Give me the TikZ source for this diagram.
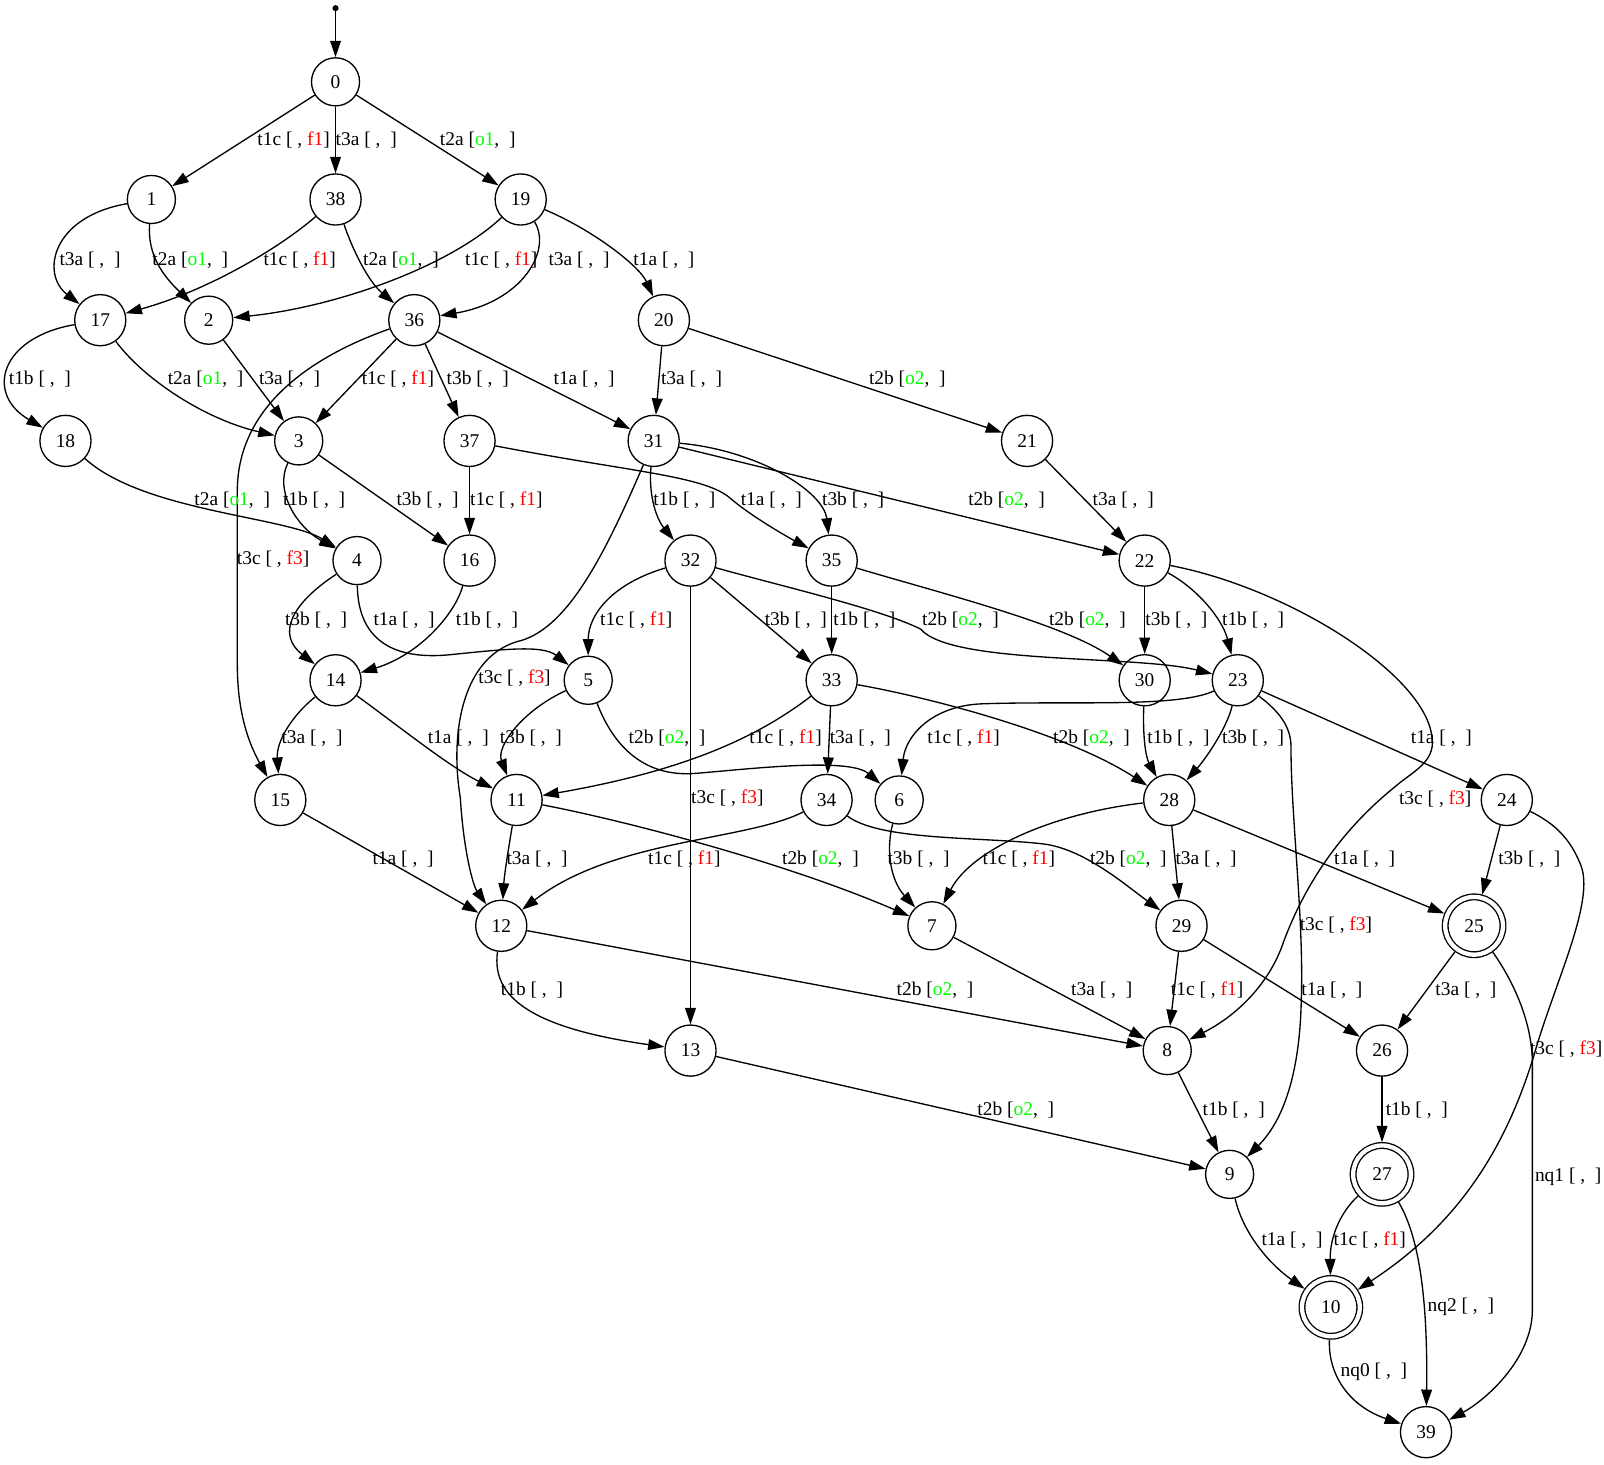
\documentclass[tikz,border=0pt]{standalone}
\usepackage{fontspec}
\setmainfont{Liberation Serif}
\usetikzlibrary{arrows.meta}
\definecolor{gvred}{RGB}{255,0,0}
\definecolor{gvgreen}{RGB}{0,255,0}
\newcommand{\lE}[1]{#1 [ ,\ \ ]}
\newcommand{\lF}[2]{#1 [ , \textcolor{gvred}{#2}]}
\newcommand{\lO}[2]{#1 [\textcolor{gvgreen}{#2},\ \ ]}
\begin{document}
\begin{tikzpicture}[x=1pt,y=-1pt,
  st/.style={circle, draw, line width=1.3pt, minimum size=47pt, inner sep=0pt, font=\fontsize{19}{22}\selectfont},
  stt/.style={st, minimum size=50pt},
  acc/.style={circle, draw, line width=1.3pt, double, double distance=4.2pt, minimum size=56.5pt, inner sep=0pt, outer sep=3.2pt, font=\fontsize{19}{22}\selectfont},
  e/.style={-{Triangle[length=16pt,width=10.5pt]}, line width=1.3pt},
  lbl/.style={inner sep=0pt, font=\fontsize{19}{22}\selectfont}]
\useasboundingbox (0,0) rectangle (1568,1432);
% nodes
\node[circle, fill, inner sep=0pt, minimum size=6pt] (s) at (328,8) {};
\node[st] (n0) at (328,80) {0};
\node[st] (n1) at (148,195) {1};
\node[stt] (n38) at (328,195) {38};
\node[stt] (n19) at (509,195) {19};
\node[stt] (n17) at (98,313) {17};
\node[st] (n2) at (204,313) {2};
\node[stt] (n36) at (405,313) {36};
\node[stt] (n20) at (649,313) {20};
\node[stt] (n18) at (64,431) {18};
\node[st] (n3) at (292,431) {3};
\node[stt] (n37) at (459,431) {37};
\node[stt] (n31) at (639,431) {31};
\node[stt] (n21) at (1004,431) {21};
\node[st] (n4) at (349,548) {4};
\node[stt] (n16) at (459,548) {16};
\node[stt] (n32) at (675,548) {32};
\node[stt] (n35) at (813,548) {35};
\node[stt] (n22) at (1119,548) {22};
\node[stt] (n14) at (328,665) {14};
\node[st] (n5) at (575,665) {5};
\node[stt] (n33) at (813,665) {33};
\node[stt] (n30) at (1119,665) {30};
\node[stt] (n23) at (1210,665) {23};
\node[stt] (n15) at (274,782) {15};
\node[stt] (n11) at (505,782) {11};
\node[stt] (n34) at (808,782) {34};
\node[st] (n6) at (879,782) {6};
\node[stt] (n28) at (1143,782) {28};
\node[stt] (n24) at (1473,782) {24};
\node[stt] (n12) at (490,905) {12};
\node[st] (n7) at (911,905) {7};
\node[stt] (n29) at (1155,905) {29};
\node[acc] (n25) at (1441,905) {25};
\node[stt] (n13) at (675,1027) {13};
\node[st] (n8) at (1141,1027) {8};
\node[stt] (n26) at (1351,1027) {26};
\node[st] (n9) at (1202,1148) {9};
\node[acc] (n27) at (1351,1148) {27};
\node[acc] (n10) at (1301,1278) {10};
\node[stt] (n39) at (1394,1400) {39};
% edges
\draw[e] (s) -- (n0);
\draw[e] (n0) -- (n1);
\draw[e] (n0) -- (n38);
\draw[e] (n0) -- (n19);
\draw[e] (n1) .. controls (50,212) and (40,268) .. (n17);
\draw[e] (n1) .. controls (144,250) and (160,270) .. (n2);
\draw[e] (n38) .. controls (270,245) and (200,285) .. (n17);
\draw[e] (n38) .. controls (345,245) and (360,275) .. (n36);
\draw[e] (n19) .. controls (440,260) and (330,300) .. (n2);
\draw[e] (n19) .. controls (540,245) and (510,295) .. (n36);
\draw[e] (n19) .. controls (580,225) and (625,260) .. (n20);
\draw[e] (n17) .. controls (0,330) and (-15,385) .. (n18);
\draw[e] (n17) .. controls (140,370) and (200,410) .. (n3);
\draw[e] (n2) -- (n3);
\draw[e] (n36) -- (n3);
\draw[e] (n36) -- (n37);
\draw[e] (n36) -- (n31);
\draw[e] (n36) .. controls (300,350) and (232,400) .. (232,480) -- (232,650) .. controls (232,700) and (245,730) .. (n15);
\draw[e] (n20) -- (n31);
\draw[e] (n20) -- (n21);
\draw[e] (n18) .. controls (140,500) and (280,505) .. (n4);
\draw[e] (n3) .. controls (268,480) and (290,515) .. (n4);
\draw[e] (n3) -- (n16);
\draw[e] (n37) -- (n16);
\draw[e] (n37) .. controls (620,462) and (690,465) .. (715,488) .. controls (735,505) and (770,525) .. (n35);
\draw[e] (n31) .. controls (634,480) and (640,505) .. (n32);
\draw[e] (n31) .. controls (740,440) and (805,480) .. (n35);
\draw[e] (n31) -- (n22);
\draw[e] (n31) .. controls (590,545) and (555,612) .. (510,626) .. controls (450,640) and (440,720) .. (450,780) .. controls (453,830) and (462,865) .. (n12);
\draw[e] (n21) -- (n22);
\draw[e] (n4) .. controls (285,590) and (270,620) .. (n14);
\draw[e] (n4) .. controls (350,630) and (390,645) .. (440,640) .. controls (490,635) and (530,630) .. (n5);
\draw[e] (n16) .. controls (445,600) and (410,640) .. (n14);
\draw[e] (n32) .. controls (600,570) and (575,600) .. (n5);
\draw[e] (n32) -- (n33);
\draw[e] (n32) .. controls (760,572) and (860,595) .. (900,615) .. controls (930,650) and (1110,640) .. (n23);
\draw[e] (n32) -- (n13);
\draw[e] (n35) -- (n33);
\draw[e] (n35) .. controls (920,580) and (1040,610) .. (n30);
\draw[e] (n22) -- (n30);
\draw[e] (n22) .. controls (1170,575) and (1195,605) .. (n23);
\draw[e] (n22) .. controls (1260,575) and (1395,660) .. (1400,722) .. controls (1403,745) and (1380,755) .. (1365,768) .. controls (1300,820) and (1270,880) .. (1255,920) .. controls (1240,965) and (1205,995) .. (n8);
\draw[e] (n14) .. controls (285,700) and (270,725) .. (n15);
\draw[e] (n14) .. controls (390,710) and (440,750) .. (n11);
\draw[e] (n5) .. controls (510,695) and (485,730) .. (n11);
\draw[e] (n5) .. controls (600,730) and (630,760) .. (680,756) .. controls (730,752) and (830,740) .. (n6);
\draw[e] (n33) .. controls (735,725) and (660,755) .. (n11);
\draw[e] (n33) -- (n34);
\draw[e] (n33) .. controls (900,680) and (1040,715) .. (n28);
\draw[e] (n30) .. controls (1117,720) and (1120,740) .. (n28);
\draw[e] (n23) .. controls (1150,692) and (1050,685) .. (960,688) .. controls (910,690) and (885,720) .. (n6);
\draw[e] (n23) .. controls (1200,710) and (1180,740) .. (n28);
\draw[e] (n23) -- (n24);
\draw[e] (n23) .. controls (1250,695) and (1262,710) .. (1262,730) .. controls (1262,800) and (1275,900) .. (1272,980) .. controls (1270,1060) and (1250,1100) .. (n9);
\draw[e] (n15) -- (n12);
\draw[e] (n11) .. controls (497,830) and (493,855) .. (n12);
\draw[e] (n11) .. controls (600,800) and (760,840) .. (n7);
\draw[e] (n34) .. controls (730,822) and (600,820) .. (n12);
\draw[e] (n34) .. controls (860,822) and (960,818) .. (1020,825) .. controls (1060,830) and (1100,865) .. (n29);
\draw[e] (n6) .. controls (866,830) and (870,860) .. (n7);
\draw[e] (n28) .. controls (1030,795) and (950,830) .. (n7);
\draw[e] (n28) -- (n29);
\draw[e] (n28) -- (n25);
\draw[e] (n24) -- (n25);
\draw[e] (n24) .. controls (1520,805) and (1535,820) .. (1545,845) .. controls (1560,880) and (1520,960) .. (1500,1030) .. controls (1470,1130) and (1420,1200) .. (n10);
\draw[e] (n12) .. controls (480,975) and (520,1005) .. (n13);
\draw[e] (n12) -- (n8);
\draw[e] (n7) -- (n8);
\draw[e] (n29) -- (n8);
\draw[e] (n29) -- (n26);
\draw[e] (n25) -- (n26);
\draw[e] (n25) .. controls (1480,960) and (1498,1000) .. (1498,1040) -- (1498,1280) .. controls (1498,1330) and (1450,1370) .. (n39);
\draw[e] (n13) -- (n9);
\draw[e] (n8) -- (n9);
\draw[e] (n26) -- (n27);
\draw[e] (n9) .. controls (1215,1205) and (1240,1235) .. (n10);
\draw[e] (n27) .. controls (1310,1185) and (1300,1210) .. (n10);
\draw[e] (n27) .. controls (1385,1205) and (1396,1260) .. (n39);
\draw[e] (n10) .. controls (1298,1345) and (1320,1375) .. (n39);
% labels
\node[lbl] (a1) at (287,137) {\lF{t1c}{f1}};
\node[lbl] (a2) at (358,137) {\lE{t3a}};
\node[lbl] (a3) at (467,137) {\lO{t2a}{o1}};
\node[lbl] (a4) at (88,254) {\lE{t3a}};
\node[lbl] (a5) at (186,254) {\lO{t2a}{o1}};
\node[lbl] (a6) at (293,254) {\lF{t1c}{f1}};
\node[lbl] (a7) at (392,254) {\lO{t2a}{o1}};
\node[lbl] (a8) at (490,254) {\lF{t1c}{f1}};
\node[lbl] (a9) at (566,254) {\lE{t3a}};
\node[lbl] (a10) at (649,254) {\lE{t1a}};
\node[lbl] (a11) at (39,371) {\lE{t1b}};
\node[lbl] (a12) at (201,371) {\lO{t2a}{o1}};
\node[lbl] (a13) at (283,371) {\lE{t3a}};
\node[lbl] (a14) at (389,371) {\lF{t1c}{f1}};
\node[lbl] (a15) at (467,371) {\lE{t3b}};
\node[lbl] (a16) at (571,371) {\lE{t1a}};
\node[lbl] (a17) at (676,371) {\lE{t3a}};
\node[lbl] (a18) at (887,371) {\lO{t2b}{o2}};
\node[lbl] (a19) at (227,489) {\lO{t2a}{o1}};
\node[lbl] (a20) at (307,489) {\lE{t1b}};
\node[lbl] (a21) at (418,489) {\lE{t3b}};
\node[lbl] (a22) at (495,489) {\lF{t1c}{f1}};
\node[lbl] (a23) at (669,489) {\lE{t1b}};
\node[lbl] (a24) at (754,489) {\lE{t1a}};
\node[lbl] (a25) at (834,489) {\lE{t3b}};
\node[lbl] (a26) at (984,489) {\lO{t2b}{o2}};
\node[lbl] (a27) at (1098,489) {\lE{t3a}};
\node[lbl] (a28) at (267,547) {\lF{t3c}{f3}};
\node[lbl] (a29) at (309,606) {\lE{t3b}};
\node[lbl] (a30) at (395,606) {\lE{t1a}};
\node[lbl] (a31) at (476,606) {\lE{t1b}};
\node[lbl] (a32) at (622,606) {\lF{t1c}{f1}};
\node[lbl] (a33) at (778,606) {\lE{t3b}};
\node[lbl] (a34) at (845,606) {\lE{t1b}};
\node[lbl] (a35) at (939,606) {\lO{t2b}{o2}};
\node[lbl] (a36) at (1063,606) {\lO{t2b}{o2}};
\node[lbl] (a37) at (1150,606) {\lE{t3b}};
\node[lbl] (a38) at (1225,606) {\lE{t1b}};
\node[lbl] (a39) at (503,663) {\lF{t3c}{f3}};
\node[lbl] (a40) at (305,722) {\lE{t3a}};
\node[lbl] (a41) at (448,722) {\lE{t1a}};
\node[lbl] (a42) at (519,722) {\lE{t3b}};
\node[lbl] (a43) at (652,722) {\lO{t2b}{o2}};
\node[lbl] (a44) at (768,722) {\lF{t1c}{f1}};
\node[lbl] (a45) at (841,722) {\lE{t3a}};
\node[lbl] (a46) at (942,722) {\lF{t1c}{f1}};
\node[lbl] (a47) at (1067,722) {\lO{t2b}{o2}};
\node[lbl] (a48) at (1152,722) {\lE{t1b}};
\node[lbl] (a49) at (1225,722) {\lE{t3b}};
\node[lbl] (a50) at (1409,722) {\lE{t1a}};
\node[lbl] (a51) at (711,780) {\lF{t3c}{f3}};
\node[lbl] (a52) at (1403,781) {\lF{t3c}{f3}};
\node[lbl] (a53) at (394,840) {\lE{t1a}};
\node[lbl] (a54) at (525,840) {\lE{t3a}};
\node[lbl] (a55) at (669,840) {\lF{t1c}{f1}};
\node[lbl] (a56) at (802,840) {\lO{t2b}{o2}};
\node[lbl] (a57) at (898,840) {\lE{t3b}};
\node[lbl] (a58) at (996,840) {\lF{t1c}{f1}};
\node[lbl] (a59) at (1103,840) {\lO{t2b}{o2}};
\node[lbl] (a60) at (1179,840) {\lE{t3a}};
\node[lbl] (a61) at (1334,840) {\lE{t1a}};
\node[lbl] (a62) at (1495,840) {\lE{t3b}};
\node[lbl] (a63) at (1306,904) {\lF{t3c}{f3}};
\node[lbl] (a64) at (520,968) {\lE{t1b}};
\node[lbl] (a65) at (914,968) {\lO{t2b}{o2}};
\node[lbl] (a66) at (1077,968) {\lE{t3a}};
\node[lbl] (a67) at (1180,968) {\lF{t1c}{f1}};
\node[lbl] (a68) at (1302,968) {\lE{t1a}};
\node[lbl] (a69) at (1433,968) {\lE{t3a}};
\node[lbl] (a70) at (1531,1026) {\lF{t3c}{f3}};
\node[lbl] (a71) at (993,1085) {\lO{t2b}{o2}};
\node[lbl] (a72) at (1206,1085) {\lE{t1b}};
\node[lbl] (a73) at (1385,1085) {\lE{t1b}};
\node[lbl] (a74) at (1533,1150) {\lE{nq1}};
\node[lbl] (a75) at (1263,1212) {\lE{t1a}};
\node[lbl] (a76) at (1339,1212) {\lF{t1c}{f1}};
\node[lbl] (a77) at (1428,1277) {\lE{nq2}};
\node[lbl] (a78) at (1343,1341) {\lE{nq0}};
\end{tikzpicture}
\end{document}
